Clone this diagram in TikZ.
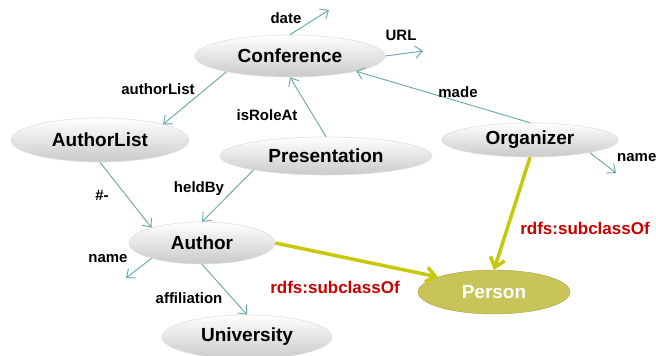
\documentclass[tikz,border=0pt]{standalone}
\usepackage{fontspec}
\setmainfont{Liberation Sans}
\usetikzlibrary{shapes.geometric,arrows.meta}
\definecolor{teal1}{RGB}{100,165,168}
\definecolor{yel}{RGB}{200,200,10}
\definecolor{olivefill}{RGB}{200,196,90}
\definecolor{redlab}{RGB}{200,0,0}
\tikzset{
  cls/.style={ellipse, inner sep=0pt, top color=white, bottom color=gray!42,
    draw=gray!25, line width=0.6pt, font=\fontsize{19}{22}\selectfont\bfseries},
  personcls/.style={ellipse, inner sep=0pt, fill=olivefill, draw=olivefill!85!black, line width=0.4pt,
    text=white, font=\fontsize{19}{22}\selectfont\bfseries},
  prop/.style={draw=teal1, line width=0.9pt, -{Straight Barb[length=7pt,width=12pt]}},
  sub/.style={draw=yel, line width=3.5pt, -{Straight Barb[length=9pt,width=15pt]}},
  plab/.style={font=\fontsize{15}{18}\selectfont\bfseries, inner sep=0pt},
  rlab/.style={font=\fontsize{17}{20}\selectfont\bfseries, text=redlab, inner sep=0pt}
}
\begin{document}
\begin{tikzpicture}[x=1pt,y=-1pt]
\useasboundingbox (0,0) rectangle (656,356);
% classes
\node[cls, minimum width=190pt, minimum height=42pt] (conf) at (290,56) {Conference};
\node[cls, minimum width=178pt, minimum height=44pt] (al) at (100,140) {AuthorList};
\node[cls, minimum width=212pt, minimum height=38pt] (pres) at (326,156) {Presentation};
\node[cls, minimum width=176pt, minimum height=34pt] (org) at (530,140) {Organizer};
\node[cls, minimum width=146pt, minimum height=42pt] (auth) at (202,243) {Author};
\node[cls, minimum width=170pt, minimum height=44pt] (univ) at (247,337) {University};
\node[personcls, minimum width=152pt, minimum height=44pt] (person) at (494,292) {Person};
% free ends
\coordinate (dateend) at (329,10);
\coordinate (urlend) at (423,51);
\coordinate (onameend) at (616,173);
\coordinate (anameend) at (126,278);
% properties
\draw[prop] (conf.north) -- (dateend);
\draw[prop] (conf.east) -- (urlend);
\draw[prop] (conf.194) -- (al.14);
\draw[prop] (pres.north) -- (conf.south);
\draw[prop] (org.north) -- (conf.347);
\draw[prop] (org.348) -- (onameend);
\draw[prop] (al.south) -- (auth.163);
\draw[prop] (pres.191) -- (auth.north);
\draw[prop] (auth.197) -- (anameend);
\draw[prop] (auth.south) -- (univ.north);
% subclass
\draw[sub] (auth.east) -- (person.165);
\draw[sub] (org.south) -- (person.north);
% labels
\node[plab] (ldate) at (286,18) {date};
\node[plab] (lurl) at (401,35) {URL};
\node[plab] (lal) at (158,89) {authorList};
\node[plab] (lrole) at (267,115) {isRoleAt};
\node[plab] (lmade) at (458,92) {made};
\node[plab, anchor=west] (loname) at (617,158) {name};
\node[plab] (lhash) at (102,195) {\#-};
\node[plab] (lheld) at (199,189) {heldBy};
\node[plab] (laname) at (108,259) {name};
\node[plab] (laff) at (189,298) {affiliation};
\node[rlab] (lsub1) at (335,287) {rdfs:subclassOf};
\node[rlab] (lsub2) at (585,228) {rdfs:subclassOf};
\end{tikzpicture}
\end{document}
